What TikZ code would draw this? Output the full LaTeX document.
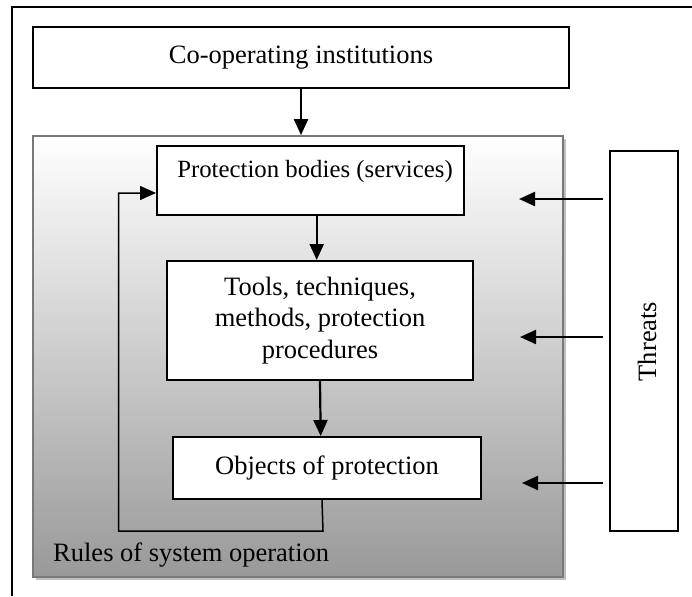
\documentclass[tikz,border=0pt]{standalone}
\usepackage{fontspec}
\setmainfont{Liberation Serif}
\usetikzlibrary{arrows.meta,shadows}
\tikzset{
  box/.style={draw=black, line width=2pt, fill=white, inner sep=0pt},
  sysbox/.style={draw=gray!95!black, line width=1.8pt, inner sep=0pt,
     top color=white, bottom color=black!40},
  txt/.style={font=\fontsize{26.5}{31.8}\selectfont, inner sep=0pt, align=center},
  arr/.style={line width=2.2pt, -{Triangle[length=16pt,width=14pt]}},
  fb/.style={line width=1.5pt, -{Triangle[length=16pt,width=14pt]}}
}
\begin{document}
\begin{tikzpicture}[x=1pt,y=-1pt]
\useasboundingbox (0,0) rectangle (692,596);
% outer frame
\draw[line width=2.2pt] (12,596) -- (12,7) -- (692,7);
% shadow of system box
\fill[black!25] (36,139) rectangle (566,580);
\node[sysbox, minimum width=530pt, minimum height=441pt] (sys) at (298,356.5) {};
% top box
\node[box, minimum width=536pt, minimum height=61pt, txt] (coop) at (301,57.5) {Co-operating institutions};
% protection bodies
\node[box, minimum width=307pt, minimum height=69pt] (pb) at (310.5,180.5) {};
\node[font=\fontsize{24.8}{29}\selectfont, inner sep=0pt] (pbt) at (315,172) {Protection bodies (services)};
% tools
\node[box, minimum width=306pt, minimum height=119pt, txt] (tools) at (320,320.5) {Tools, techniques,\\methods, protection\\procedures};
% objects
\node[box, minimum width=308pt, minimum height=62pt, txt] (obj) at (327,468) {Objects of protection};
% rules label
\node[txt, anchor=base west] (rules) at (53,561.5) {Rules of system operation};
% threats
\node[box, minimum width=68pt, minimum height=380pt] (thr) at (644,341) {};
\node[txt, rotate=90] (thrt) at (647,341.5) {Threats};
% arrows
\draw[arr] (coop.south) -- (coop.south |- sys.north);
\draw[arr] ([xshift=6.2pt]pb.south) -- ([xshift=6.2pt]pb.south |- tools.north);
\draw[arr] (tools.south) -- ([xshift=-6.3pt]obj.north);
% feedback
\coordinate (fb0) at (323,531);
\coordinate (fb1) at (118.5,531);
\coordinate (fb2) at (118.5,193);
\draw[fb, line join=miter] ([xshift=-5pt]obj.south) -- (fb0) -- (fb1) -- (fb2) -- (fb2 -| pb.west);
% threat arrows
\coordinate (t1) at (519,199);
\coordinate (t2) at (520,337);
\coordinate (t3) at (522,483);
\draw[arr] ([xshift=-6pt]thr.west |- t1) -- (t1);
\draw[arr] ([xshift=-6pt]thr.west |- t2) -- (t2);
\draw[arr] ([xshift=-6pt]thr.west |- t3) -- (t3);
\end{tikzpicture}
\end{document}
